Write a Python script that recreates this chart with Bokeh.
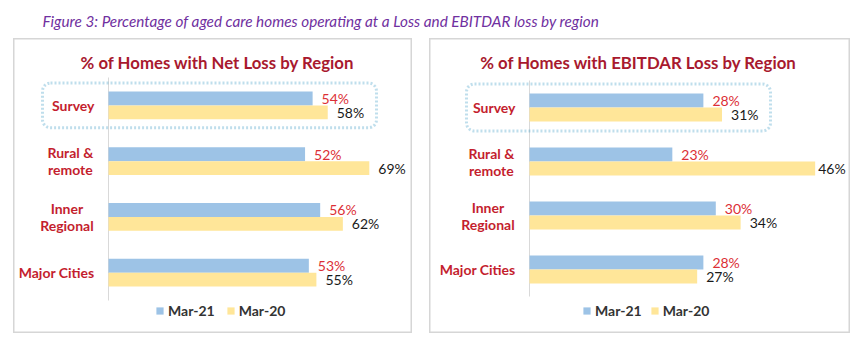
from bokeh.plotting import figure
from bokeh.models import (Range1d, ColumnDataSource, BoxAnnotation,
                          Legend, LegendItem, Label, Spacer)
from bokeh.layouts import column, row
from bokeh.core.properties import value
from bokeh.embed import file_html
from bokeh.resources import INLINE

# ---------------- data ----------------
figure_title = "Figure 3: Percentage of aged care homes operating at a Loss and EBITDAR loss by region"
regions = ["Survey", "Rural &\nremote", "Inner\nRegional", "Major Cities"]
series = ["Mar-21", "Mar-20"]

net_title = "% of Homes with Net Loss by Region"
net_mar21 = [54, 52, 56, 53]
net_mar20 = [58, 69, 62, 55]

ebitdar_title = "% of Homes with EBITDAR Loss by Region"
ebitdar_mar21 = [28, 23, 30, 28]
ebitdar_mar20 = [31, 46, 34, 27]

# ---------------- style ----------------
FONT = "Lato"
BLUE = "#9dc3e6"
YELLOW = "#ffe699"
TITLE_RED = "#a8192e"
CAT_RED = "#c41e2e"
VAL_RED = "#dc2f36"
DOT_BLUE = "#2a92c0"
LINE_H = 17       # px between lines of a two-line category label
CHAR_W = 6.9      # approx. px per char of the bold category font
STANDOFF = 14     # px between category labels and axis line


def make_panel(title, m21, m20, W, H, axis_px, top_px, bottom_px, px_per_pct,
               bar_h, title_cx, legend_x, legend_spacing, box_l, box_r, box_half):
    n = len(regions)
    unit = (H - top_px - bottom_px) / n          # px per category
    ypos = [n - 0.5 - i for i in range(n)]       # category centres (Survey on top)
    off = bar_h / 2

    def lab_off(v):  # keep the value label inside the panel
        return 9 if axis_px + v * px_per_pct + 9 + 30 <= W else 3

    src = ColumnDataSource(dict(
        y21=[y + off for y in ypos], y20=[y - off for y in ypos],
        m21=m21, m20=m20,
        l21=[f"{v}%" for v in m21], l20=[f"{v}%" for v in m20],
        o21=[lab_off(v) for v in m21], o20=[lab_off(v) for v in m20]))

    # category labels, one text item per line
    single = dict(x=[], y=[], text=[])
    multi = dict(x=[], y=[], text=[], dy=[], dx=[])
    for y, reg in zip(ypos, regions):
        lines = reg.split("\n")
        if len(lines) == 1:
            single["x"].append(0); single["y"].append(y); single["text"].append(reg)
        else:
            w = max(len(s) for s in lines) * CHAR_W
            for j, ln in enumerate(lines):
                multi["x"].append(0); multi["y"].append(y); multi["text"].append(ln)
                multi["dy"].append((j - (len(lines) - 1) / 2) * LINE_H)
                multi["dx"].append(-STANDOFF - w / 2)

    y_end = n + top_px / unit
    p = figure(width=W, height=H,
               x_range=Range1d(-axis_px / px_per_pct, (W - axis_px) / px_per_pct),
               y_range=Range1d(-bottom_px / unit, y_end),
               output_backend="svg", toolbar_location=None, min_border=0)
    p.axis.visible = False
    p.grid.visible = False
    p.outline_line_color = "#d6d6d6"
    p.outline_line_width = 2

    # vertical category axis line
    p.segment(x0=[0], x1=[0], y0=[0], y1=[n], line_color="#d9d9d9", line_width=1)

    r21 = p.hbar(y="y21", left=0, right="m21", height=bar_h, source=src,
                 fill_color=BLUE, line_color=None)
    r20 = p.hbar(y="y20", left=0, right="m20", height=bar_h, source=src,
                 fill_color=YELLOW, line_color=None)

    p.text(x="m21", y="y21", text="l21", source=src, x_offset="o21",
           text_baseline="middle", text_font=value(FONT), text_font_size="14px",
           text_color=VAL_RED)
    p.text(x="m20", y="y20", text="l20", source=src, x_offset="o20",
           text_baseline="middle", text_font=value(FONT), text_font_size="14px",
           text_color="#1a1a1a")

    cat_style = dict(text_baseline="middle", text_font=value(FONT),
                     text_font_size="14px", text_font_style="bold", text_color=CAT_RED)
    p.text(x="x", y="y", text="text", source=ColumnDataSource(single),
           x_offset=-STANDOFF, text_align="right", **cat_style)
    p.text(x="x", y="y", text="text", source=ColumnDataSource(multi),
           x_offset="dx", y_offset="dy", text_align="center", **cat_style)

    # chart title
    p.add_layout(Label(x=(title_cx - axis_px) / px_per_pct, y=y_end - 24 / unit,
                       text=title, text_align="center", text_baseline="middle",
                       text_font=FONT, text_font_size="16.8px", text_font_style="bold",
                       text_color=TITLE_RED))

    # dotted highlight around the "Survey" group
    sy = ypos[regions.index("Survey")]
    p.add_layout(BoxAnnotation(left=box_l / px_per_pct, right=box_r / px_per_pct,
                               bottom=sy - box_half, top=sy + box_half,
                               fill_alpha=0, line_color=DOT_BLUE, line_width=3,
                               line_dash="2 2", border_radius=8))

    legend = Legend(items=[LegendItem(label=series[0], renderers=[r21]),
                           LegendItem(label=series[1], renderers=[r20])],
                    orientation="horizontal", location=(legend_x, 14),
                    glyph_width=9, glyph_height=9, label_standoff=4,
                    spacing=legend_spacing,
                    padding=0, margin=0, border_line_color=None,
                    background_fill_alpha=0,
                    label_text_font=FONT, label_text_font_size="14px",
                    label_text_font_style="bold", label_text_color="#333333",
                    label_height=16)
    p.add_layout(legend, "center")
    return p


left = make_panel(net_title, net_mar21, net_mar20,
                  W=399, H=295, axis_px=95, top_px=39, bottom_px=33,
                  px_per_pct=3.78, bar_h=0.25, title_cx=204, legend_x=142,
                  legend_spacing=11,
                  box_l=-66, box_r=268, box_half=0.40)
right = make_panel(ebitdar_title, ebitdar_mar21, ebitdar_mar20,
                   W=421, H=295, axis_px=100, top_px=42, bottom_px=37,
                   px_per_pct=6.21, bar_h=0.26, title_cx=209, legend_x=153,
                   legend_spacing=8,
                   box_l=-63, box_r=241, box_half=0.435)

header = figure(width=850, height=38, x_range=Range1d(0, 850), y_range=Range1d(0, 38),
                output_backend="svg", toolbar_location=None, min_border=0)
header.axis.visible = False
header.grid.visible = False
header.outline_line_color = None
header.add_layout(Label(x=42, y=18, text=figure_title, text_font=FONT,
                        text_font_size="15.3px", text_font_style="italic",
                        text_color="#7030a0", text_baseline="middle"))

page = column(header, row(Spacer(width=13, height=295), left,
                          Spacer(width=17, height=295), right))

open("out.html", "w").write(file_html(page, INLINE))
